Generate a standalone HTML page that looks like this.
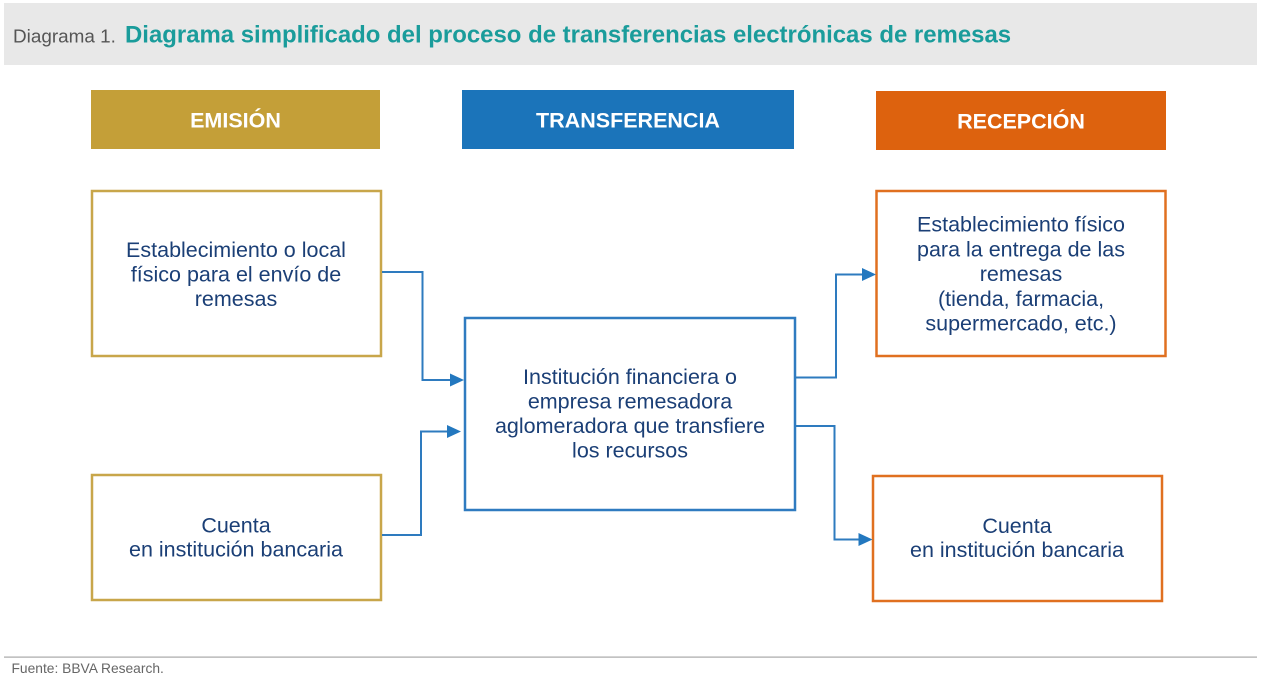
<!DOCTYPE html>
<html>
<head>
<meta charset="utf-8">
<style>
  html, body { margin:0; padding:0; background:#ffffff; }
  body { width:1263px; height:692px; overflow:hidden; }
  svg { display:block; }
  text { font-family: "Liberation Sans", Arial, sans-serif; }
</style>
</head>
<body>
<svg width="1263" height="692" viewBox="0 0 1263 692" xmlns="http://www.w3.org/2000/svg">
  <!-- Title bar -->
  <rect x="4" y="3" width="1253" height="62" fill="#e8e8e8"/>
  <text x="13" y="42.5" font-size="18.9" fill="#555555">Diagrama 1.</text>
  <text x="125" y="42.5" font-size="23.95" font-weight="bold" fill="#1a9c9b">Diagrama simplificado del proceso de transferencias electrónicas de remesas</text>

  <!-- Column headers -->
  <rect x="91" y="90" width="289" height="59" fill="#c49f38"/>
  <text x="235.5" y="127.5" font-size="21.5" font-weight="bold" fill="#ffffff" text-anchor="middle">EMISIÓN</text>

  <rect x="462" y="90" width="332" height="59" fill="#1b74ba"/>
  <text x="628" y="127.5" font-size="21.5" font-weight="bold" fill="#ffffff" text-anchor="middle">TRANSFERENCIA</text>

  <rect x="876" y="91" width="290" height="59" fill="#dd620e"/>
  <text x="1021" y="128.5" font-size="21.5" font-weight="bold" fill="#ffffff" text-anchor="middle">RECEPCIÓN</text>

  <!-- Left boxes -->
  <rect x="92" y="191" width="289" height="165" fill="#ffffff" stroke="#c8a64a" stroke-width="2.5"/>
  <g font-size="21.5" fill="#1b3f76" text-anchor="middle">
    <text x="236" y="257">Establecimiento o local</text>
    <text x="236" y="281.5">físico para el envío de</text>
    <text x="236" y="306">remesas</text>
  </g>

  <rect x="92" y="475" width="289" height="125" fill="#ffffff" stroke="#c8a64a" stroke-width="2.5"/>
  <g font-size="21.5" fill="#1b3f76" text-anchor="middle">
    <text x="236" y="532.5">Cuenta</text>
    <text x="236" y="556.5">en institución bancaria</text>
  </g>

  <!-- Center box -->
  <rect x="465" y="318" width="330" height="192" fill="#ffffff" stroke="#2f7bc0" stroke-width="2.5"/>
  <g font-size="21.5" fill="#1b3f76" text-anchor="middle">
    <text x="630" y="384">Institución financiera o</text>
    <text x="630" y="408.5">empresa remesadora</text>
    <text x="630" y="433">aglomeradora que transfiere</text>
    <text x="630" y="457.5">los recursos</text>
  </g>

  <!-- Right boxes -->
  <rect x="876.5" y="191" width="289" height="165" fill="#ffffff" stroke="#e07020" stroke-width="2.5"/>
  <g font-size="21.5" fill="#1b3f76" text-anchor="middle">
    <text x="1021" y="231.5">Establecimiento físico</text>
    <text x="1021" y="256.3">para la entrega de las</text>
    <text x="1021" y="281.1">remesas</text>
    <text x="1021" y="305.9">(tienda, farmacia,</text>
    <text x="1021" y="330.7">supermercado, etc.)</text>
  </g>

  <rect x="873" y="476" width="289" height="125" fill="#ffffff" stroke="#e07020" stroke-width="2.5"/>
  <g font-size="21.5" fill="#1b3f76" text-anchor="middle">
    <text x="1017" y="533">Cuenta</text>
    <text x="1017" y="557">en institución bancaria</text>
  </g>

  <!-- Connectors -->
  <g fill="none" stroke="#2e7bbf" stroke-width="2">
    <polyline points="382,272 422.5,272 422.5,380 452,380"/>
    <polyline points="382,535 421,535 421,431.5 449,431.5"/>
    <polyline points="796,377.5 836,377.5 836,274.5 864,274.5"/>
    <polyline points="796,426 834.5,426 834.5,539.5 861,539.5"/>
  </g>
  <g fill="#2378bf">
    <polygon points="464,380 450,373.5 450,386.5"/>
    <polygon points="461,431.5 447,425 447,438"/>
    <polygon points="876,274.5 862,268 862,281"/>
    <polygon points="872.5,539.5 858.5,533 858.5,546"/>
  </g>

  <!-- Footer -->
  <rect x="4" y="656.5" width="1253" height="1.2" fill="#a8a8a8"/>
  <text x="11.5" y="673" font-size="13.8" fill="#666666">Fuente: BBVA Research.</text>
</svg>
</body>
</html>
